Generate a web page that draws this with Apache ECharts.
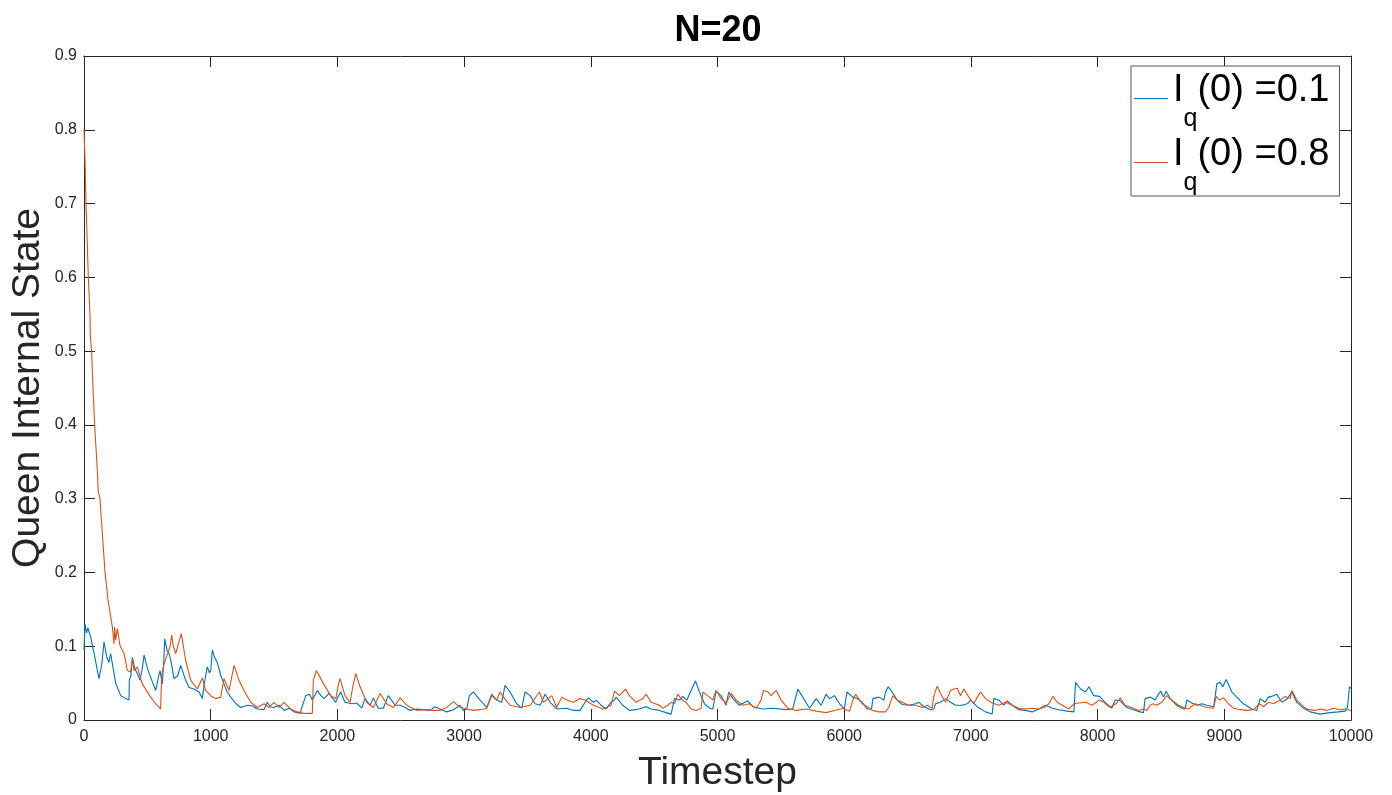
<!DOCTYPE html>
<html>
<head>
<meta charset="utf-8">
<script src="https://cdn.jsdelivr.net/npm/echarts@6/dist/echarts.min.js"></script>
<style>
html,body{margin:0;padding:0;background:#fff;}
#chart{width:1392px;height:795px;}
</style>
</head>
<body>
<div id="chart"></div>
<script>
const chartTitle = 'N=20';
const xAxisName = 'Timestep';
const yAxisName = 'Queen Internal State';
const seriesNames = ['I_q(0) =0.1', 'I_q(0) =0.8'];

// [timestep, value] pairs
const blueData = [
[0,0.095],[8,0.13],[20,0.118],[30,0.125],[53,0.112],[80,0.09],[118,0.056],[140,0.075],[158,0.106],[180,0.085],[197,0.078],[210,0.09],[250,0.05],[290,0.033],[310,0.031],[330,0.029],[355,0.027],[358,0.054],[370,0.06],[382,0.085],[400,0.07],[421,0.063],[442,0.054],[460,0.07],[474,0.088],[500,0.07],[539,0.052],[566,0.04],[590,0.06],[600,0.067],[618,0.049],[630,0.08],[637,0.11],[655,0.095],[671,0.09],[689,0.078],[710,0.056],[740,0.06],[763,0.074],[776,0.072],[800,0.055],[829,0.044],[868,0.042],[908,0.038],[934,0.029],[950,0.05],[973,0.072],[990,0.064],[1000,0.067],[1013,0.095],[1030,0.085],[1052,0.078],[1080,0.06],[1105,0.049],[1130,0.038],[1158,0.031],[1200,0.022],[1237,0.017],[1289,0.02],[1330,0.019],[1368,0.015],[1420,0.014],[1447,0.024],[1470,0.018],[1500,0.017],[1540,0.02],[1579,0.013],[1620,0.016],[1658,0.011],[1710,0.009],[1715,0.015],[1735,0.025],[1750,0.033],[1780,0.035],[1802,0.027],[1842,0.04],[1870,0.033],[1894,0.029],[1934,0.036],[1960,0.03],[1987,0.024],[2000,0.03],[2026,0.038],[2060,0.024],
[2113,0.022],[2153,0.023],[2192,0.016],[2218,0.029],[2258,0.02],[2284,0.03],[2323,0.016],[2362,0.016],[2402,0.033],[2415,0.033],[2455,0.02],[2495,0.02],[2534,0.017],[2573,0.013],[2626,0.015],[2679,0.014],[2731,0.013],[2771,0.018],[2810,0.015],[2863,0.011],[2916,0.014],[2968,0.02],[2994,0.013],[3021,0.015],[3042,0.033],[3073,0.038],[3087,0.04],[3126,0.027],[3179,0.017],[3218,0.035],[3258,0.027],[3297,0.024],[3323,0.047],[3363,0.038],[3415,0.022],[3455,0.016],[3481,0.038],[3521,0.033],[3560,0.022],[3600,0.02],[3639,0.035],[3679,0.024],[3731,0.015],[3810,0.016],[3863,0.013],[3915,0.013],[3955,0.024],[3981,0.03],[4021,0.024],[4042,0.027],
[4081,0.02],[4121,0.015],[4160,0.024],[4187,0.027],[4200,0.031],[4252,0.02],[4305,0.013],[4358,0.014],[4437,0.018],[4476,0.015],[4542,0.013],[4594,0.01],[4634,0.008],[4660,0.029],[4700,0.027],[4726,0.032],[4758,0.027],[4805,0.045],[4826,0.053],[4858,0.038],[4897,0.022],[4937,0.016],[4963,0.015],[4989,0.039],[5029,0.033],[5068,0.02],[5089,0.038],[5121,0.029],[5173,0.02],[5239,0.026],[5279,0.018],[5358,0.015],[5437,0.016],[5542,0.014],[5594,0.015],[5634,0.042],[5673,0.031],[5726,0.016],[5779,0.029],[5818,0.02],[5857,0.035],[5884,0.029],[5923,0.033],[5963,0.022],[6002,0.015],[6021,0.038],[6068,0.031],
[6102,0.029],[6142,0.024],[6181,0.015],[6216,0.015],[6226,0.029],[6273,0.031],[6313,0.027],[6326,0.038],[6347,0.045],[6379,0.038],[6418,0.027],[6458,0.021],[6510,0.02],[6563,0.022],[6589,0.024],[6629,0.018],[6681,0.014],[6708,0.015],[6721,0.022],[6760,0.024],[6800,0.029],[6839,0.024],[6879,0.02],[6931,0.02],[6971,0.022],[6997,0.027],[7050,0.018],[7115,0.011],[7168,0.008],[7181,0.029],[7221,0.027],[7260,0.02],[7286,0.026],[7326,0.02],[7379,0.014],[7431,0.013],[7484,0.011],[7536,0.015],[7589,0.02],[7642,0.016],[7694,0.014],[7760,0.012],[7813,0.011],[7826,0.051],[7865,0.042],[7905,0.038],[7931,0.045],[7970,0.033],[8015,0.032],
[8059,0.024],[8112,0.016],[8138,0.027],[8178,0.026],[8230,0.017],[8283,0.014],[8336,0.011],[8362,0.01],[8375,0.029],[8415,0.031],[8454,0.027],[8480,0.035],[8499,0.039],[8520,0.031],[8541,0.039],[8573,0.029],[8625,0.02],[8665,0.016],[8691,0.015],[8704,0.027],[8744,0.023],[8783,0.02],[8822,0.022],[8862,0.02],[8915,0.018],[8928,0.032],[8941,0.049],[8967,0.051],[8988,0.045],[9015,0.055],[9059,0.038],[9099,0.031],[9151,0.022],[9217,0.015],[9257,0.013],[9283,0.029],[9322,0.024],[9349,0.031],[9388,0.033],[9414,0.035],[9454,0.024],[9493,0.028],[9533,0.038],[9572,0.024],[9625,0.016],[9678,0.011],[9756,0.008],[9835,0.01],[9901,0.011],[9954,0.012],[9972,0.017],[9988,0.045],[10000,0.043]
];

const orangeData = [
[0,0.8],[8,0.76],[16,0.70],[34,0.6],[47,0.55],[50,0.52],[60,0.5],[71,0.45],[84,0.4],[108,0.33],[112,0.31],[126,0.3],[134,0.28],[166,0.2],[190,0.162],[224,0.126],[237,0.103],[242,0.126],[250,0.108],[263,0.124],[284,0.101],[316,0.09],[342,0.067],[368,0.065],[382,0.083],[395,0.067],[421,0.072],[460,0.049],[526,0.031],[566,0.022],[605,0.015],[612,0.06],[630,0.075],[660,0.09],[680,0.1],[692,0.115],[705,0.1],[724,0.09],[740,0.1],[768,0.117],[802,0.081],[842,0.054],[895,0.042],[934,0.057],[960,0.04],[1000,0.033],[1039,0.029],[1079,0.031],[1105,0.056],[1145,0.04],[1184,0.074],[1223,0.054],[1263,0.04],[1316,0.024],[1368,0.017],[1421,0.022],[1460,0.017],[1500,0.024],[1540,0.017],[1579,0.024],[1630,0.015],[1684,0.011],[1737,0.009],[1802,0.009],[1810,0.054],[1834,0.067],[1881,0.052],[1947,0.033],[1987,0.029],[2013,0.052],[2021,0.056],[2060,0.033],[2100,0.024],[2121,0.045],[2145,0.063],[2179,0.045],[2231,0.024],[2284,0.017],[2337,0.036],[2389,0.022],[2442,0.017],[2495,0.03],[2547,0.02],[2626,0.013],[2705,0.014],[2758,0.013],[2810,0.013],[2863,0.017],[2916,0.025],[2968,0.017],[3021,0.015],[3073,0.013],[3126,0.014],[3179,0.016],[3218,0.033],[3258,0.027],[3284,0.038],[3310,0.031],[3363,0.02],[3442,0.017],[3521,0.02],[3594,0.038],[3626,0.024],[3692,0.033],[3731,0.017],[3771,0.031],[3810,0.027],[3863,0.024],[3915,0.029],[3955,0.027],[4021,0.02],
[4095,0.015],[4160,0.02],[4187,0.039],[4226,0.033],[4273,0.042],[4305,0.033],[4358,0.024],[4410,0.029],[4437,0.035],[4476,0.024],[4542,0.02],[4568,0.016],[4608,0.02],[4634,0.024],[4660,0.022],[4686,0.035],[4721,0.027],[4752,0.024],[4792,0.015],[4831,0.013],[4871,0.016],[4884,0.038],[4923,0.033],[4963,0.027],[4989,0.04],[5029,0.029],[5068,0.023],[5108,0.036],[5147,0.027],[5200,0.02],[5252,0.022],[5305,0.016],[5344,0.027],[5363,0.04],[5397,0.038],[5423,0.033],[5463,0.04],[5502,0.027],[5555,0.016],[5621,0.013],[5700,0.015],[5779,0.012],[5857,0.01],[5923,0.013],[5989,0.016],[6042,0.012],[6068,0.027],[6089,0.035],
[6142,0.022],[6181,0.018],[6221,0.013],[6273,0.011],[6326,0.011],[6352,0.017],[6384,0.033],[6418,0.027],[6458,0.024],[6510,0.02],[6563,0.02],[6616,0.017],[6655,0.02],[6694,0.016],[6708,0.033],[6734,0.046],[6760,0.036],[6800,0.024],[6839,0.04],[6865,0.042],[6892,0.043],[6918,0.033],[6944,0.042],[6984,0.031],[7023,0.022],[7050,0.031],[7076,0.038],[7115,0.029],[7168,0.023],[7221,0.02],[7273,0.024],[7326,0.02],[7379,0.016],[7431,0.015],[7484,0.016],[7536,0.015],[7576,0.017],[7615,0.022],[7647,0.032],[7681,0.024],[7721,0.02],[7773,0.015],[7813,0.022],[7852,0.023],[7905,0.024],[7957,0.02],[8010,0.027],
[8049,0.024],[8099,0.017],[8152,0.023],[8178,0.03],[8217,0.02],[8283,0.016],[8323,0.013],[8362,0.015],[8388,0.013],[8415,0.02],[8436,0.022],[8467,0.02],[8507,0.024],[8546,0.033],[8586,0.027],[8638,0.02],[8691,0.016],[8717,0.015],[8770,0.022],[8809,0.02],[8862,0.017],[8915,0.016],[8936,0.032],[8962,0.027],[8994,0.03],[9033,0.022],[9072,0.016],[9125,0.014],[9178,0.013],[9230,0.014],[9278,0.022],[9309,0.018],[9349,0.024],[9388,0.022],[9441,0.027],[9480,0.032],[9520,0.029],[9533,0.04],[9572,0.027],[9625,0.018],[9664,0.014],[9717,0.013],[9756,0.015],[9809,0.013],[9862,0.016],[9914,0.014],[9954,0.015],[10000,0.013]
];

const FONT = '"Liberation Sans", Arial, Helvetica, sans-serif';
const AX = '#262626';

const chart = echarts.init(document.getElementById('chart'), null, {renderer: 'canvas'});

function axisCommon() {
  return {
    axisLine: {show: true, onZero: false, lineStyle: {color: AX, width: 1}},
    axisTick: {show: true, inside: true, length: 11, lineStyle: {color: AX, width: 1}},
    splitLine: {show: false}
  };
}

const option = {
  animation: false,
  backgroundColor: '#ffffff',
  title: {
    text: chartTitle,
    left: 713,
    top: 8,
    textAlign: 'center',
    textStyle: {fontFamily: FONT, fontSize: 36, fontWeight: 'bold', color: '#000'}
  },
  grid: {left: 84, right: 41, top: 56, bottom: 75, containLabel: false, outerBoundsMode: 'none'},
  legend: {
    orient: 'vertical',
    left: 1131,
    top: 66,
    padding: [6, 10, 0, 3],
    itemGap: 4,
    itemWidth: 34,
    itemHeight: 1,
    icon: 'rect',
    backgroundColor: '#ffffff',
    borderColor: '#555555',
    borderWidth: 1,
    borderRadius: 0,
    formatter: function (name) {
      const parts = name.split('_q');
      return '{a|' + parts[0] + '}{b|q}{a|' + parts[1] + '}';
    },
    textStyle: {
      fontFamily: FONT,
      fontSize: 38,
      color: '#000',
      rich: {
        a: {fontFamily: FONT, fontSize: 38, color: '#000', verticalAlign: 'top', padding: [0, 0, 15, 0], lineHeight: 53},
        b: {fontFamily: FONT, fontSize: 25, color: '#000', verticalAlign: 'top', padding: [35, 0, 0, 0], lineHeight: 10}
      }
    }
  },
  xAxis: [
    Object.assign(axisCommon(), {
      type: 'value', position: 'bottom', min: 0, max: 10000, interval: 1000,
      name: xAxisName, nameLocation: 'middle', nameGap: 34,
      nameTextStyle: {fontFamily: FONT, fontSize: 39, color: AX},
      axisLabel: {show: true, margin: 9, fontFamily: FONT, fontSize: 16, color: AX,
        formatter: function (v) { return String(v); }}
    }),
    Object.assign(axisCommon(), {
      type: 'value', position: 'top', min: 0, max: 10000, interval: 1000,
      axisLabel: {show: false}
    })
  ],
  yAxis: [
    Object.assign(axisCommon(), {
      type: 'value', position: 'left', min: 0, max: 0.9, interval: 0.1,
      name: yAxisName, nameLocation: 'middle', nameGap: 39, nameMoveOverlap: false,
      nameTextStyle: {fontFamily: FONT, fontSize: 39, color: AX, lineHeight: 34},
      axisLabel: {show: true, margin: 7, fontFamily: FONT, fontSize: 16, color: AX,
        formatter: function (v) { return String(+v.toFixed(1)); }}
    }),
    Object.assign(axisCommon(), {
      type: 'value', position: 'right', min: 0, max: 0.9, interval: 0.1,
      axisLabel: {show: false}
    })
  ],
  series: [
    {
      name: seriesNames[0], type: 'line', xAxisIndex: 0, yAxisIndex: 0,
      data: blueData, showSymbol: false, symbol: 'none',
      lineStyle: {color: '#0072BD', width: 1.1}, itemStyle: {color: '#0072BD'},
      z: 2
    },
    {
      name: seriesNames[1], type: 'line', xAxisIndex: 0, yAxisIndex: 0,
      data: orangeData, showSymbol: false, symbol: 'none',
      lineStyle: {color: '#D95319', width: 1.1}, itemStyle: {color: '#D95319'},
      z: 3
    }
  ]
};

chart.setOption(option);
</script>
</body>
</html>
